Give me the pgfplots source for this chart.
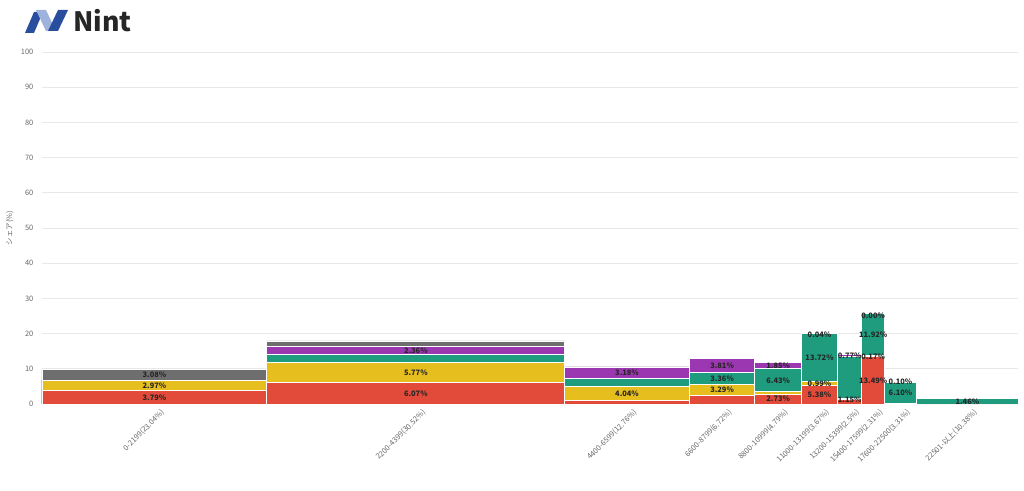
\documentclass[border=0pt]{standalone}
\usepackage{pgfplots}
\pgfplotsset{compat=1.18}
\usepackage{pgfplotstable}
\usepackage{fontspec}
\setmainfont{Noto Sans CJK JP}
\definecolor{cRed}{HTML}{E24A3A}
\definecolor{cYel}{HTML}{E6BE1E}
\definecolor{cTeal}{HTML}{1F9B7E}
\definecolor{cPur}{HTML}{9B37B0}
\definecolor{cGry}{HTML}{6E6E6E}
\definecolor{gridc}{HTML}{E8E8E8}
\definecolor{tickc}{HTML}{666666}
\definecolor{logoDark}{HTML}{2A4E9E}
\definecolor{logoLight}{HTML}{9DB3DB}

% left edge of each column (share of the total), segment values bottom to top
\pgfplotstableread{
x      red    yel   teal   pur   gry
0      3.79   2.97  0      0     3.08
23.04  6.07   5.77  2.10   2.36  1.60
53.56  1.00   4.04  2.30   3.18  0
66.32  2.35   3.29  3.36   3.81  0
73.04  2.73   0.80  6.43   1.85  0
77.83  5.38   0.99  13.72  0.04  0
81.50  1.15   0.35  11.90  0.77  0
84.00  13.49  0.17  11.92  0.00  0
86.31  0.10   0     6.10   0.10  0
89.62  0      0     1.46   0     0
100    0      0     0      0     0
}\segs

% value labels: column centre, segment middle, text
\pgfplotstableread{
x       y       lab
11.52   1.895   3.79
11.52   5.275   2.97
11.52   8.30    3.08
38.30   3.035   6.07
38.30   8.955   5.77
38.30   15.12   2.36
59.94   3.02    4.04
59.94   8.93    3.18
69.68   3.995   3.29
69.68   7.32    3.36
69.68   10.905  3.81
75.435  1.40    2.73
75.435  6.745   6.43
75.435  10.885  1.85
79.665  2.69    5.38
79.665  5.875   0.99
79.665  13.23   13.72
79.665  19.75   0.04
82.75   1.35    1.15
82.75   13.70   0.77
85.155  6.745   13.49
85.155  13.40   0.17
85.155  19.62   11.92
85.155  25.20   0.00
87.965  3.15    6.10
87.965  6.20    0.10
94.81   0.73    1.46
}\labs

\newcommand{\smallfont}{\fontsize{5.6}{6.5}\selectfont}

\begin{document}
\begin{tikzpicture}
\useasboundingbox (0,0) rectangle (768pt,367.5pt);

% logo
\begin{scope}[x=0.75pt,y=-0.75pt,shift={(0pt,367.5pt)}]
  \fill[logoDark] (25,33) -- (34,12) -- (43,12) -- (34,33) -- cycle;
  \fill[logoLight] (36,10) -- (46,10) -- (56,31) -- (46,31) -- cycle;
  \fill[logoDark] (48,31) -- (58,10) -- (68,10) -- (58,31) -- cycle;
  \node[anchor=west, inner sep=0pt, text=black!85] at (73,21) {\fontsize{20}{22}\selectfont\bfseries Nint};
\end{scope}

\begin{axis}[
  at={(31.5pt,64.5pt)}, anchor=south west, scale only axis,
  width=732pt, height=264pt,
  xmin=0, xmax=100, ymin=0, ymax=100,
  axis line style={draw=none},
  major tick length=0pt,
  tick style={draw=none},
  ytick={0,10,...,100},
  ymajorgrids,
  grid style={gridc, line width=0.6pt},
  xtick={11.52,38.30,59.94,69.68,75.435,79.665,82.75,85.155,87.965,94.81},
  xticklabels={0-2199(23.04\%),2200-4399(30.52\%),4400-6599(12.76\%),6600-8799(6.72\%),8800-10999(4.79\%),11000-13199(3.67\%),13200-15399(2.5\%),15400-17599(2.31\%),17600-22500(3.31\%),22501-以上(10.38\%)},
  xticklabel style={rotate=45, anchor=north east, font=\smallfont, text=tickc, xshift=4pt, yshift=-2pt},
  yticklabel style={font=\smallfont, text=tickc, xshift=-3pt},
  /pgf/number format/assume math mode=true,
  ylabel={シェア(\%)},
  every axis y label/.style={at={(axis description cs:-0.033,0.5)}, rotate=90, anchor=center, font=\smallfont, text=tickc},
  clip=false,
]
\addplot[ybar interval, fill=cGry, draw=white, line width=0.7pt]
  table[x=x, y expr=\thisrow{red}+\thisrow{yel}+\thisrow{teal}+\thisrow{pur}+\thisrow{gry}] {\segs};
\addplot[ybar interval, fill=cPur, draw=white, line width=0.7pt]
  table[x=x, y expr=\thisrow{red}+\thisrow{yel}+\thisrow{teal}+\thisrow{pur}] {\segs};
\addplot[ybar interval, fill=cTeal, draw=white, line width=0.7pt]
  table[x=x, y expr=\thisrow{red}+\thisrow{yel}+\thisrow{teal}] {\segs};
\addplot[ybar interval, fill=cYel, draw=white, line width=0.7pt]
  table[x=x, y expr=\thisrow{red}+\thisrow{yel}] {\segs};
\addplot[ybar interval, fill=cRed, draw=white, line width=0.7pt]
  table[x=x, y=red] {\segs};

\addplot[draw=none, mark=none,
  nodes near coords={\pgfplotspointmeta\%},
  point meta=explicit symbolic,
  every node near coord/.append style={anchor=center, inner sep=0pt, font=\fontsize{5.6}{6.5}\selectfont\bfseries, text=black!85}]
  table[x=x, y=y, meta=lab] {\labs};
\end{axis}
\end{tikzpicture}
\end{document}
